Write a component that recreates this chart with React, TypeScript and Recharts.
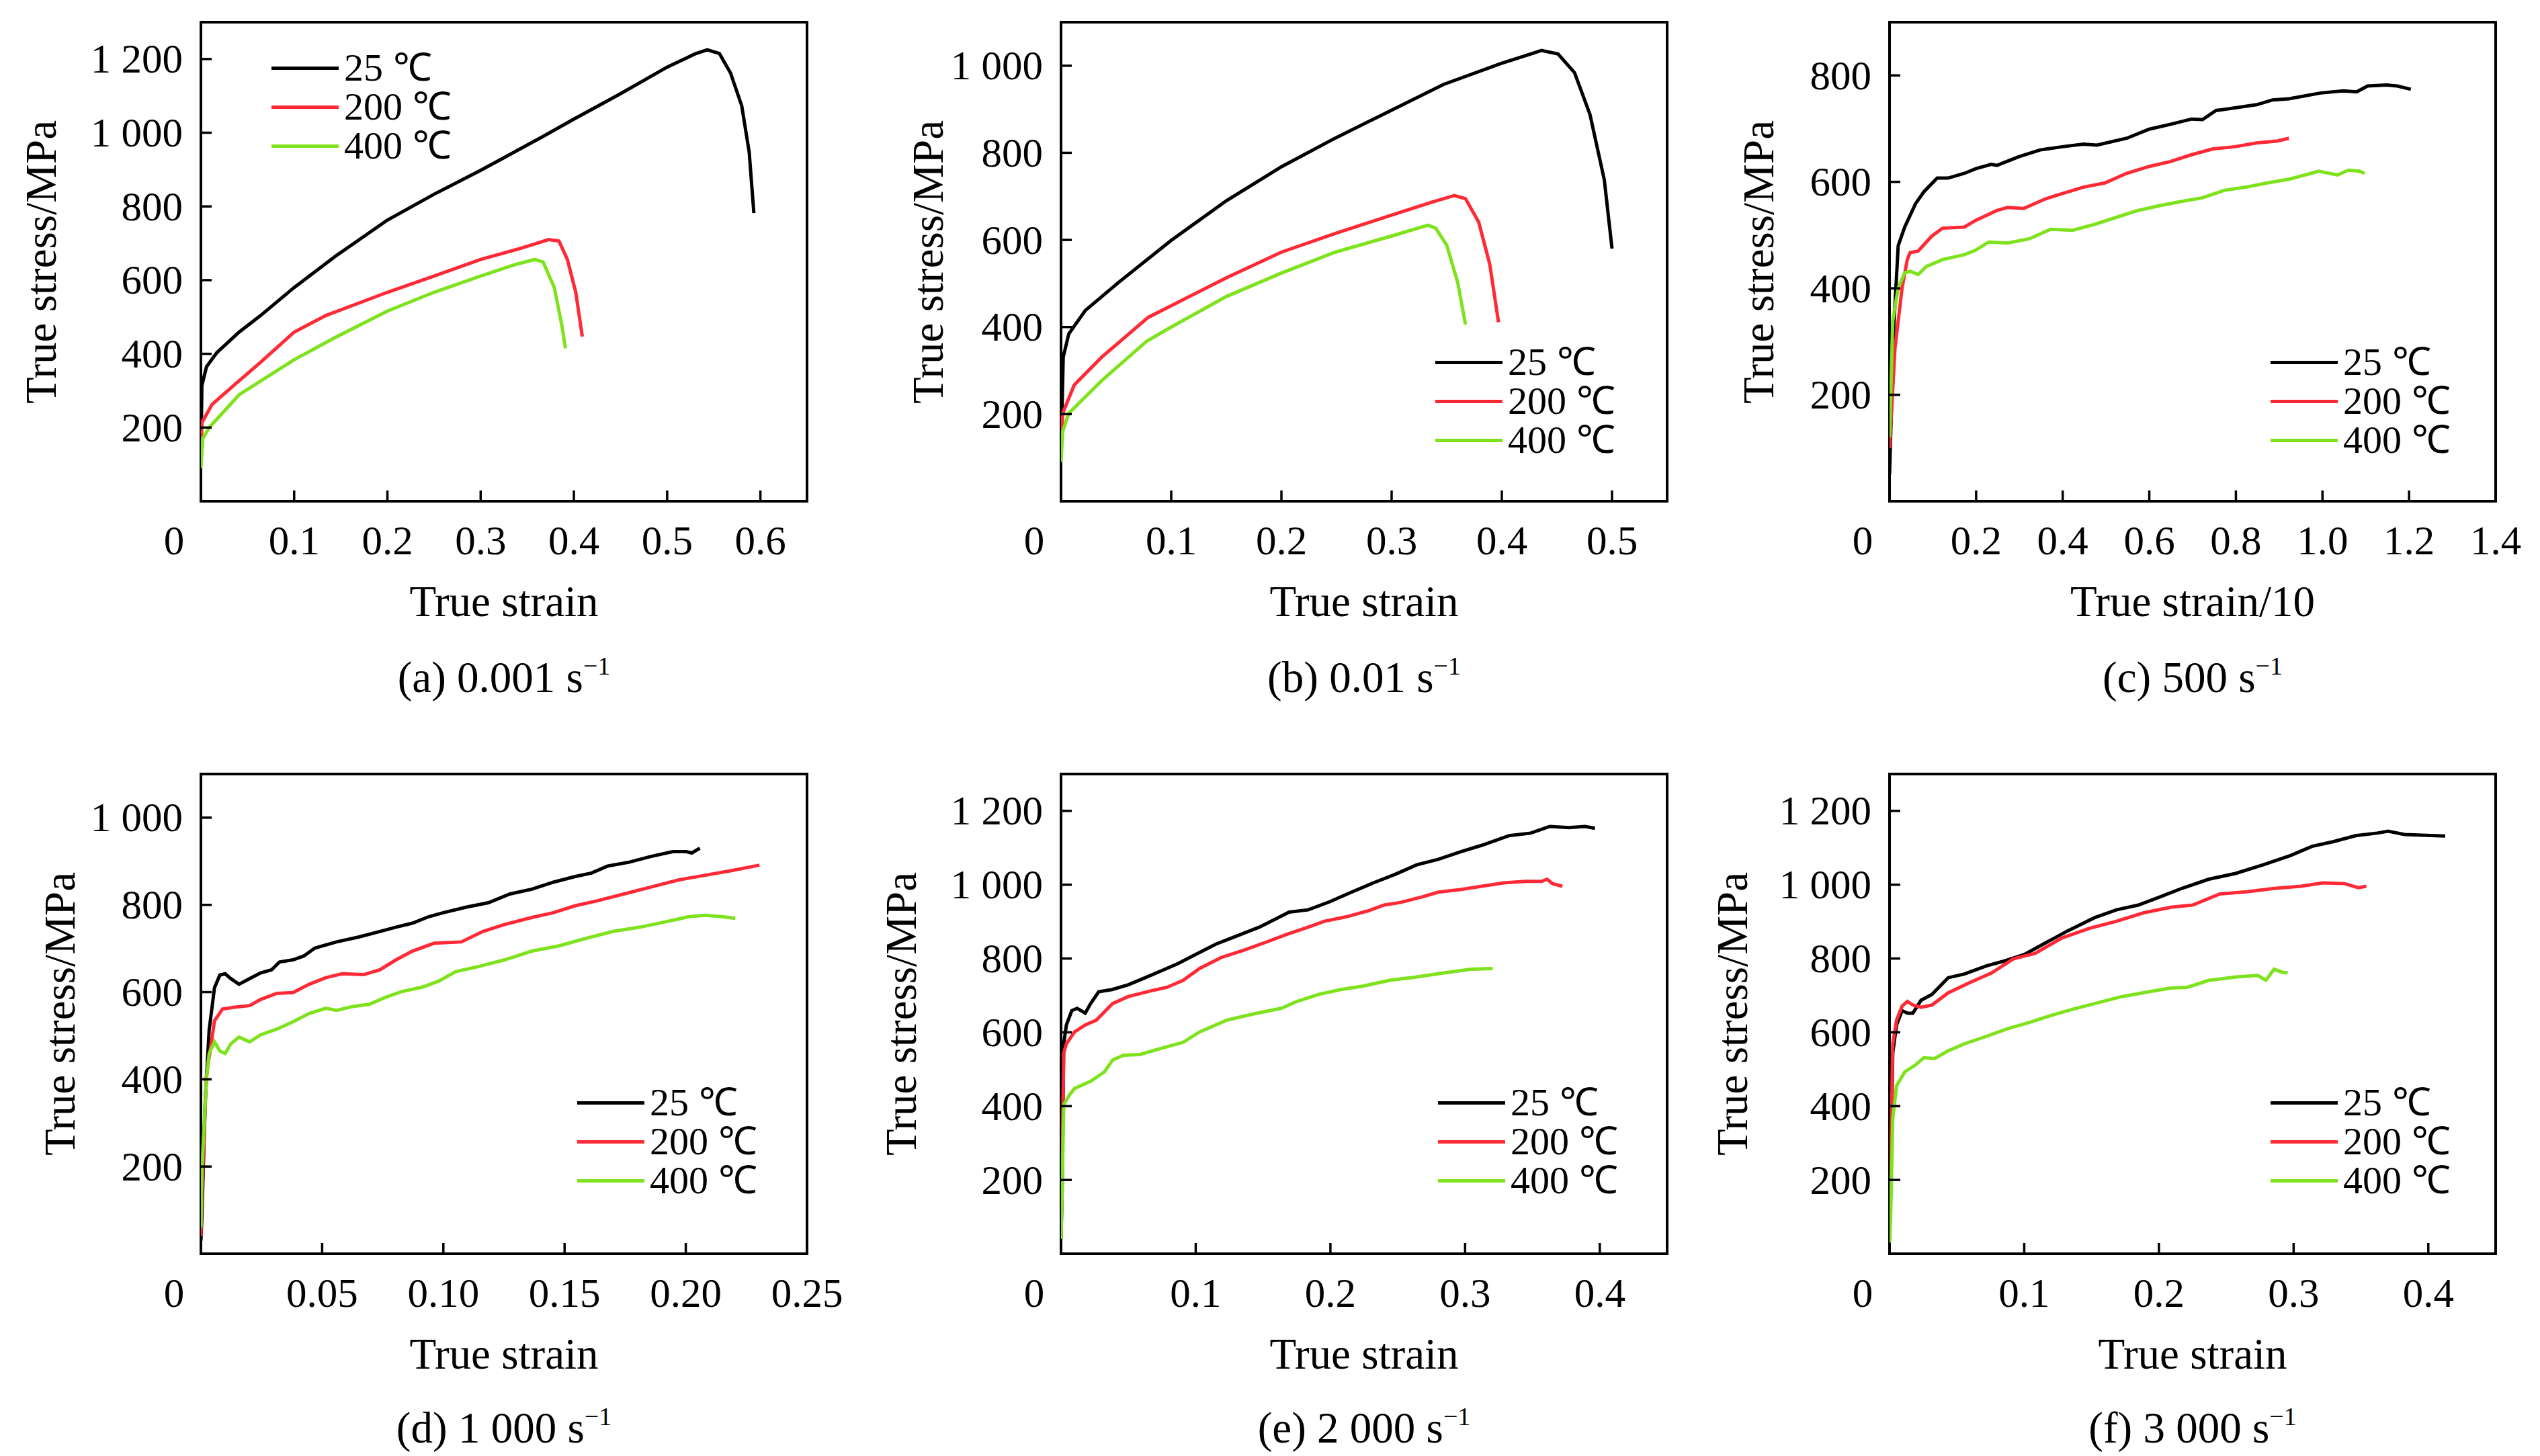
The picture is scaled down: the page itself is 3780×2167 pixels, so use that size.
import React from "react";
import { LineChart, Line, XAxis, YAxis, ReferenceArea } from "recharts";

type Pt = [number, number];

// ---- data: [true strain, true stress (MPa)] ----
const temps = ["25", "200", "400"];
const colors = ["#000000", "#ff2a36", "#7ee21c"];

// (a) 0.001 s-1
const a25: Pt[] = [[0, 100], [0.001, 314], [0.006, 365], [0.017, 403], [0.041, 459], [0.064, 504], [0.1, 580], [0.146, 668], [0.2, 763], [0.25, 833], [0.3, 898], [0.367, 990], [0.4, 1037], [0.448, 1103], [0.5, 1178], [0.53, 1214], [0.543, 1225], [0.556, 1215], [0.568, 1162], [0.58, 1073], [0.588, 947], [0.593, 782]];
const a200: Pt[] = [[0, 120], [0.001, 213], [0.012, 263], [0.035, 314], [0.064, 377], [0.1, 459], [0.134, 504], [0.2, 567], [0.25, 611], [0.3, 656], [0.344, 687], [0.373, 710], [0.384, 706], [0.393, 656], [0.402, 567], [0.409, 447]];
const a400: Pt[] = [[0, 90], [0.002, 170], [0.009, 200], [0.041, 289], [0.1, 384], [0.146, 447], [0.2, 516], [0.25, 567], [0.3, 611], [0.338, 643], [0.358, 656], [0.367, 649], [0.379, 580], [0.387, 478], [0.391, 415]];

// (b) 0.01 s-1
const b25: Pt[] = [[0, 100], [0.002, 331], [0.007, 384], [0.022, 438], [0.052, 502], [0.1, 599], [0.15, 690], [0.2, 768], [0.249, 834], [0.3, 898], [0.347, 957], [0.399, 1005], [0.436, 1035], [0.451, 1027], [0.466, 984], [0.48, 888], [0.493, 738], [0.5, 580]];
const b200: Pt[] = [[0, 110], [0.0015, 202], [0.012, 267], [0.037, 331], [0.079, 422], [0.1, 449], [0.15, 513], [0.2, 572], [0.249, 615], [0.3, 657], [0.337, 687], [0.357, 702], [0.367, 695], [0.379, 641], [0.389, 545], [0.397, 411]];
const b400: Pt[] = [[0, 90], [0.0015, 160], [0.007, 202], [0.037, 277], [0.078, 368], [0.1, 400], [0.15, 470], [0.2, 524], [0.249, 572], [0.3, 609], [0.333, 634], [0.34, 627], [0.35, 588], [0.36, 502], [0.367, 406]];

// (c) 500 s-1 (strain / 10)
const c25: Pt[] = [[0, 50], [0.01, 331], [0.02, 480], [0.035, 515], [0.06, 559], [0.079, 581], [0.11, 607], [0.135, 607], [0.173, 616], [0.2, 625], [0.235, 633], [0.248, 631], [0.298, 647], [0.348, 660], [0.399, 666], [0.448, 671], [0.479, 669], [0.548, 682], [0.6, 699], [0.648, 708], [0.698, 718], [0.723, 717], [0.754, 734], [0.798, 739], [0.848, 745], [0.885, 754], [0.923, 756], [0.996, 767], [1.048, 771], [1.079, 769], [1.104, 780], [1.148, 782], [1.173, 780], [1.204, 774]];
const c200: Pt[] = [[0, 100], [0.0125, 287], [0.029, 401], [0.041, 454], [0.0475, 467], [0.066, 470], [0.0975, 498], [0.1225, 513], [0.1725, 515], [0.2, 528], [0.2475, 546], [0.2725, 552], [0.31, 550], [0.36, 568], [0.399, 578], [0.4475, 590], [0.4975, 598], [0.5475, 616], [0.6, 629], [0.6475, 638], [0.6975, 651], [0.7475, 662], [0.7975, 666], [0.8475, 673], [0.8975, 677], [0.9225, 682]];
const c400: Pt[] = [[0, 120], [0.0075, 340], [0.02, 401], [0.035, 429], [0.0475, 432], [0.066, 426], [0.085, 441], [0.1225, 454], [0.1725, 463], [0.1975, 471], [0.229, 487], [0.2725, 485], [0.3225, 493], [0.3725, 511], [0.4225, 509], [0.4725, 520], [0.5225, 533], [0.5725, 546], [0.6225, 555], [0.6725, 563], [0.7225, 570], [0.7725, 584], [0.8225, 590], [0.8725, 598], [0.9225, 605], [0.96, 613], [0.991, 620], [1.035, 613], [1.06, 622], [1.085, 620], [1.0975, 616]];

// (d) 1 000 s-1
const d25: Pt[] = [[0, 30], [0.0004, 83], [0.0018, 352], [0.0034, 513], [0.0056, 610], [0.0078, 639], [0.01, 642], [0.0123, 631], [0.0157, 618], [0.0201, 631], [0.0246, 644], [0.0291, 651], [0.0324, 669], [0.038, 674], [0.0425, 683], [0.047, 701], [0.0559, 715], [0.0649, 726], [0.0738, 739], [0.0805, 749], [0.0872, 758], [0.094, 773], [0.1, 782], [0.1096, 795], [0.1186, 805], [0.1275, 825], [0.1365, 836], [0.1454, 852], [0.1544, 865], [0.1611, 873], [0.1678, 889], [0.1767, 898], [0.1857, 911], [0.1946, 922], [0.2002, 922], [0.2025, 919], [0.2058, 930]];
const d200: Pt[] = [[0, 40], [0.0004, 126], [0.0022, 405], [0.0056, 534], [0.0089, 561], [0.0134, 565], [0.0201, 569], [0.0246, 583], [0.0313, 597], [0.038, 599], [0.0447, 618], [0.0515, 633], [0.0582, 642], [0.0671, 640], [0.0738, 651], [0.0805, 674], [0.0872, 694], [0.0962, 712], [0.1074, 715], [0.1163, 739], [0.1253, 755], [0.1365, 771], [0.1454, 782], [0.1544, 798], [0.1633, 809], [0.1745, 825], [0.1857, 841], [0.1969, 857], [0.2081, 868], [0.2192, 879], [0.2304, 891]];
const d400: Pt[] = [[0, 60], [0.0004, 190], [0.0022, 395], [0.0034, 459], [0.0056, 486], [0.0078, 465], [0.01, 459], [0.0123, 481], [0.0157, 497], [0.0201, 486], [0.0246, 502], [0.0313, 515], [0.038, 532], [0.0447, 551], [0.0515, 563], [0.0559, 558], [0.0626, 567], [0.0694, 572], [0.0761, 588], [0.0828, 601], [0.0917, 612], [0.0984, 626], [0.1051, 647], [0.1141, 658], [0.1253, 674], [0.1365, 694], [0.1477, 706], [0.1588, 723], [0.17, 739], [0.1812, 749], [0.1924, 762], [0.2013, 773], [0.208, 776], [0.2148, 773], [0.2204, 769]];

// (e) 2 000 s-1
const e25: Pt[] = [[0, 40], [0.0008, 162], [0.002, 569], [0.004, 620], [0.008, 659], [0.012, 665], [0.018, 652], [0.022, 678], [0.028, 710], [0.038, 716], [0.05, 729], [0.0625, 748], [0.0746, 767], [0.0867, 786], [0.1, 811], [0.1149, 839], [0.131, 862], [0.1472, 885], [0.1593, 907], [0.1694, 926], [0.1835, 932], [0.1996, 954], [0.2157, 980], [0.2319, 1005], [0.248, 1028], [0.2641, 1054], [0.2802, 1069], [0.2964, 1089], [0.3125, 1107], [0.3327, 1133], [0.3488, 1140], [0.3629, 1158], [0.377, 1155], [0.3891, 1158], [0.3964, 1153]];
const e200: Pt[] = [[0, 50], [0.0008, 225], [0.002, 544], [0.004, 569], [0.01, 601], [0.018, 620], [0.0262, 633], [0.0383, 678], [0.05, 697], [0.0665, 712], [0.0786, 722], [0.0907, 741], [0.1028, 773], [0.119, 803], [0.1351, 822], [0.1512, 843], [0.1673, 865], [0.1835, 885], [0.1956, 901], [0.2117, 913], [0.2278, 929], [0.2399, 945], [0.252, 952], [0.2681, 967], [0.2802, 980], [0.2964, 987], [0.3125, 996], [0.3286, 1005], [0.3448, 1009], [0.3569, 1009], [0.3609, 1015], [0.3649, 1003], [0.3722, 996]];
const e400: Pt[] = [[0, 40], [0.0008, 162], [0.002, 404], [0.006, 429], [0.01, 448], [0.0222, 468], [0.0323, 493], [0.0383, 525], [0.0464, 538], [0.0585, 540], [0.0746, 557], [0.0907, 573], [0.1028, 601], [0.123, 633], [0.1431, 650], [0.1633, 665], [0.1754, 684], [0.1915, 703], [0.2077, 716], [0.2238, 725], [0.244, 741], [0.2641, 750], [0.2843, 761], [0.3044, 771], [0.3206, 773]];

// (f) 3 000 s-1
const f25: Pt[] = [[0, 40], [0.0008, 162], [0.0024, 544], [0.0052, 620], [0.0093, 659], [0.0133, 652], [0.0173, 652], [0.0234, 687], [0.0315, 703], [0.0435, 748], [0.0556, 758], [0.0718, 780], [0.0839, 792], [0.1, 811], [0.1161, 843], [0.1323, 875], [0.1524, 911], [0.1685, 932], [0.1847, 945], [0.2008, 967], [0.2169, 990], [0.2371, 1015], [0.2573, 1031], [0.2774, 1054], [0.2976, 1079], [0.3137, 1104], [0.3298, 1117], [0.346, 1133], [0.3621, 1140], [0.3702, 1145], [0.3823, 1136], [0.3984, 1134], [0.4125, 1132]];
const f200: Pt[] = [[0, 50], [0.0008, 225], [0.0024, 569], [0.0052, 633], [0.0093, 671], [0.0133, 684], [0.0173, 674], [0.0234, 668], [0.0315, 674], [0.0435, 707], [0.0597, 735], [0.0758, 761], [0.0919, 799], [0.1081, 814], [0.1282, 856], [0.1484, 882], [0.1685, 901], [0.1887, 924], [0.2089, 939], [0.225, 945], [0.2452, 975], [0.2653, 981], [0.2855, 990], [0.3056, 996], [0.3218, 1005], [0.3379, 1003], [0.348, 992], [0.354, 996]];
const f400: Pt[] = [[0, 30], [0.0008, 98], [0.0024, 366], [0.0052, 455], [0.0113, 493], [0.0194, 512], [0.0254, 531], [0.0335, 529], [0.0435, 550], [0.0556, 569], [0.0718, 589], [0.0879, 610], [0.104, 627], [0.1202, 646], [0.1355, 662], [0.1524, 678], [0.1726, 697], [0.1927, 710], [0.2089, 720], [0.221, 722], [0.2371, 741], [0.2573, 750], [0.2734, 754], [0.2794, 741], [0.2855, 771], [0.2915, 763], [0.2956, 761]];

// axis ticks
const xTicksA = [0, 0.1, 0.2, 0.3, 0.4, 0.5, 0.6];
const xTicksB = [0, 0.1, 0.2, 0.3, 0.4, 0.5];
const xTicksC = [0, 0.2, 0.4, 0.6, 0.8, 1.0, 1.2, 1.4];
const xTicksD = [0, 0.05, 0.1, 0.15, 0.2, 0.25];
const xTicksEF = [0, 0.1, 0.2, 0.3, 0.4];
const yTicks1200 = [200, 400, 600, 800, 1000, 1200];
const yTicks1000 = [200, 400, 600, 800, 1000];
const yTicks800 = [200, 400, 600, 800];

const captions = ["(a) 0.001 s", "(b) 0.01 s", "(c) 500 s", "(d) 1 000 s", "(e) 2 000 s", "(f) 3 000 s"];

const FONT = "'Liberation Serif', 'Times New Roman', Times, serif";
const TICK_FS = 61;
const TITLE_FS = 65;

interface Panel {
  left: number; top: number; w: number; h: number;
  xMax: number; yMax: number; xTicks: number[]; yTicks: number[]; xDec: number;
  xTitle: string; yTitleX: number; legend: [number, number]; series: Pt[][];
}

const panels: Panel[] = [
  { left: 299, top: 33, w: 902, h: 713, xMax: 0.65, yMax: 1300, xTicks: xTicksA, yTicks: yTicks1200, xDec: 1, xTitle: "True strain", yTitleX: 61, legend: [404, 101], series: [a25, a200, a400] },
  { left: 1579, top: 33, w: 902, h: 713, xMax: 0.55, yMax: 1100, xTicks: xTicksB, yTicks: yTicks1000, xDec: 1, xTitle: "True strain", yTitleX: 1381, legend: [2136, 539], series: [b25, b200, b400] },
  { left: 2812, top: 33, w: 902, h: 713, xMax: 1.4, yMax: 900, xTicks: xTicksC, yTicks: yTicks800, xDec: 1, xTitle: "True strain/10", yTitleX: 2617, legend: [3379, 539], series: [c25, c200, c400] },
  { left: 299, top: 1152, w: 902, h: 714, xMax: 0.25, yMax: 1100, xTicks: xTicksD, yTicks: yTicks1000, xDec: 2, xTitle: "True strain", yTitleX: 89, legend: [859, 1641], series: [d25, d200, d400] },
  { left: 1579, top: 1152, w: 902, h: 714, xMax: 0.45, yMax: 1300, xTicks: xTicksEF, yTicks: yTicks1200, xDec: 1, xTitle: "True strain", yTitleX: 1341, legend: [2140, 1641], series: [e25, e200, e400] },
  { left: 2812, top: 1152, w: 902, h: 714, xMax: 0.45, yMax: 1300, xTicks: xTicksEF, yTicks: yTicks1200, xDec: 1, xTitle: "True strain", yTitleX: 2578, legend: [3379, 1641], series: [f25, f200, f400] },
];

const fmtY = (v: number) =>
  v >= 1000 ? `${Math.floor(v / 1000)} ${String(v % 1000).padStart(3, "0")}` : String(v);

const makeXTick = (dec: number) => (props: any) => {
  const { x, y, payload } = props;
  const v = payload.value as number;
  return (
    <g>
      {v !== 0 && <line x1={x} y1={y} x2={x} y2={y - 16} stroke="#000" strokeWidth={3.5} />}
      <text x={v === 0 ? x - 40 : x} y={y + 58} textAnchor="middle" dominantBaseline="central"
        fontSize={TICK_FS} fontFamily={FONT} fill="#000">
        {v === 0 ? "0" : v.toFixed(dec)}
      </text>
    </g>
  );
};

const YTick = (props: any) => {
  const { x, y, payload } = props;
  return (
    <g>
      <line x1={x} y1={y} x2={x + 16} y2={y} stroke="#000" strokeWidth={3.5} />
      <text x={x - 27} y={y} textAnchor="end" dominantBaseline="central"
        fontSize={TICK_FS} fontFamily={FONT} fill="#000">
        {fmtY(payload.value)}
      </text>
    </g>
  );
};

const centered = (cx: number, cy: number, extra: React.CSSProperties = {}): React.CSSProperties => ({
  position: "absolute", left: cx, top: cy, transform: "translate(-50%, -50%)",
  whiteSpace: "nowrap", fontSize: TITLE_FS, lineHeight: 1, ...extra,
});

const PanelView: React.FC<{ p: Panel; idx: number }> = ({ p, idx }) => {
  const cx = p.left + p.w / 2;
  const cy = p.top + p.h / 2;
  const row2 = p.top > 1000;
  return (
    <>
      <div style={{ position: "absolute", left: p.left - 220, top: p.top - 20 }}>
        <LineChart width={p.w + 320} height={p.h + 120} margin={{ top: 20, right: 100, bottom: 0, left: 0 }}>
          <XAxis type="number" dataKey="x" domain={[0, p.xMax]} ticks={p.xTicks} interval={0}
            tickSize={0} tickMargin={0} tickLine={false} axisLine={false} height={100}
            tick={makeXTick(p.xDec)} allowDataOverflow />
          <YAxis type="number" domain={[0, p.yMax]} ticks={p.yTicks} interval={0} width={220}
            tickSize={0} tickMargin={0} tickLine={false} axisLine={false} tick={YTick} allowDataOverflow />
          {p.series.map((s, i) => (
            <Line key={temps[i]} data={s.map(([x, y]) => ({ x, y }))} dataKey="y" type="linear"
              stroke={colors[i]} strokeWidth={5} dot={false} isAnimationActive={false} />
          ))}
          <ReferenceArea x1={0} x2={p.xMax} y1={0} y2={p.yMax} fill="none" fillOpacity={0}
            stroke="#000" strokeWidth={4} ifOverflow="visible" />
        </LineChart>
      </div>
      <div style={centered(p.yTitleX, cy, { transform: "translate(-50%, -50%) rotate(-90deg)" })}>
        True stress/MPa
      </div>
      <div style={centered(cx, row2 ? 2015 : 895)}>{p.xTitle}</div>
      <div style={centered(cx, row2 ? 2125 : 1008)}>
        {captions[idx]}
        <sup style={{ fontSize: 38, verticalAlign: "top", position: "relative", top: -4 }}>−1</sup>
      </div>
      {temps.map((t, i) => (
        <React.Fragment key={t}>
          <div style={{ position: "absolute", left: p.legend[0], top: p.legend[1] + i * 58 - 2.5, width: 100, height: 5, background: colors[i] }} />
          <div style={{ position: "absolute", left: p.legend[0] + 108, top: p.legend[1] + i * 58, transform: "translateY(-50%)", fontSize: 58, lineHeight: 0.9, whiteSpace: "nowrap" }}>
            {`${t} ℃`}
          </div>
        </React.Fragment>
      ))}
    </>
  );
};

const App: React.FC = () => (
  <div style={{ position: "absolute", left: 0, top: 0, width: 3780, height: 2167, background: "#fff", fontFamily: FONT, color: "#000" }}>
    {panels.map((p, i) => <PanelView key={i} p={p} idx={i} />)}
  </div>
);

export default App;
